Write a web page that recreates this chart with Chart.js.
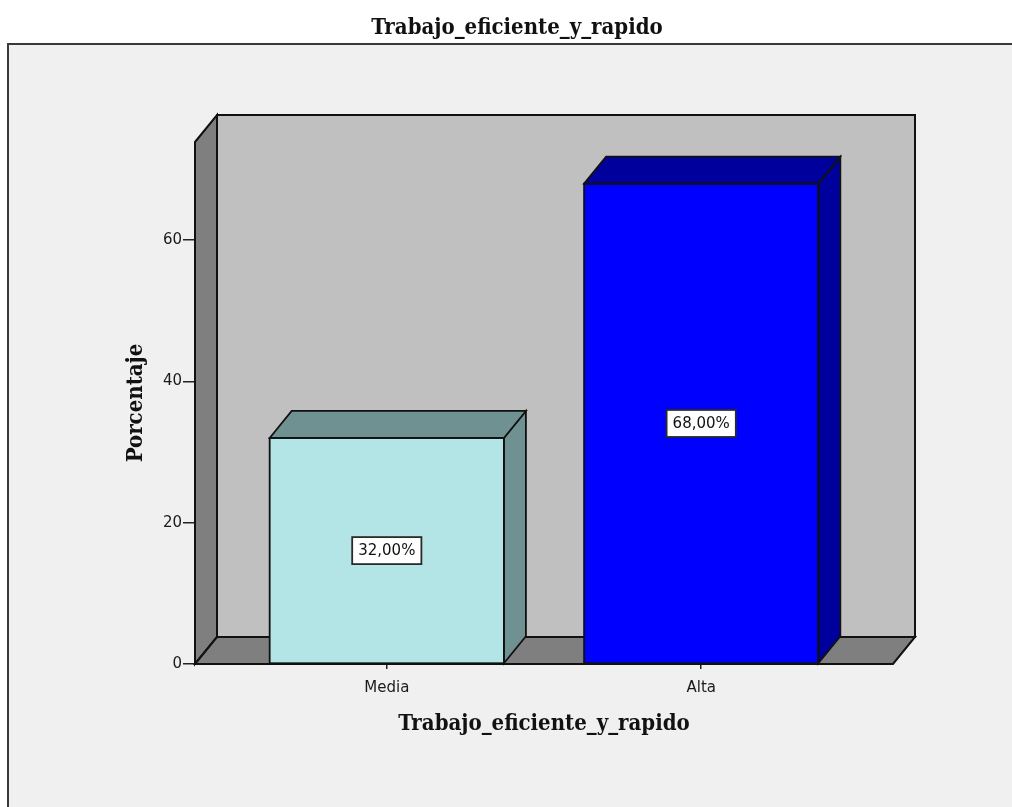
<!DOCTYPE html>
<html>
<head>
<meta charset="utf-8">
<script src="https://cdn.jsdelivr.net/npm/chart.js@4/dist/chart.umd.min.js"></script>
<style>
  html, body { margin: 0; padding: 0; background: #ffffff; }
  canvas { display: block; }
</style>
</head>
<body>
<canvas id="chart" width="1012" height="807"></canvas>
<script>
// Data
const categories = ['Media', 'Alta'];
const percentages = [32, 68];
const yTicks = [0, 20, 40, 60];
const yAxisTop = 73.9;

// Styles
const frontColors = ['#b3e5e7', '#0000ff'];
const sideColors = ['#6f9191', '#00009c'];
const edgeColor = '#111111';
const depthX = 22, depthY = 27;
const serif = "'DejaVu Serif Condensed', 'Liberation Serif', serif";
const sans = "'DejaVu Sans', sans-serif";

const fmtPct = v => v.toFixed(2).replace('.', ',') + '%';

function poly(ctx, pts, fill, stroke, lw) {
  ctx.beginPath();
  ctx.moveTo(pts[0][0], pts[0][1]);
  for (let i = 1; i < pts.length; i++) ctx.lineTo(pts[i][0], pts[i][1]);
  ctx.closePath();
  if (fill) { ctx.fillStyle = fill; ctx.fill(); }
  if (stroke) { ctx.strokeStyle = stroke; ctx.lineWidth = lw || 1.5; ctx.lineJoin = 'miter'; ctx.stroke(); }
}

// Panel background, frame and the 3D box (back wall, side wall, floor)
const boxPlugin = {
  id: 'box3d',
  beforeDraw(chart) {
    const ctx = chart.ctx;
    ctx.save();
    ctx.fillStyle = '#ffffff';
    ctx.fillRect(0, 0, chart.width, chart.height);
    ctx.fillStyle = '#f0f0f0';
    ctx.fillRect(8, 44, chart.width - 8, chart.height - 44);
    ctx.strokeStyle = '#3a3a3a';
    ctx.lineWidth = 2;
    ctx.beginPath();
    ctx.moveTo(chart.width, 44);
    ctx.lineTo(8, 44);
    ctx.lineTo(8, chart.height);
    ctx.stroke();
    ctx.restore();
  },
  beforeDatasetsDraw(chart) {
    const ctx = chart.ctx;
    const xs = chart.scales.x, ys = chart.scales.y;
    const L = xs.left, R = xs.right;
    const B = ys.getPixelForValue(0), T = ys.getPixelForValue(yAxisTop);
    ctx.save();
    // back wall
    poly(ctx, [[L + depthX, T - depthY], [R + depthX, T - depthY], [R + depthX, B - depthY], [L + depthX, B - depthY]], '#c0c0c0', edgeColor, 2);
    // left wall
    poly(ctx, [[L, T], [L + depthX, T - depthY], [L + depthX, B - depthY], [L, B]], '#7f7f7f', edgeColor, 2);
    // floor
    poly(ctx, [[L, B], [L + depthX, B - depthY], [R + depthX, B - depthY], [R, B]], '#7f7f7f', edgeColor, 2);
    ctx.restore();
  },
  afterDatasetsDraw(chart) {
    const ctx = chart.ctx;
    const meta = chart.getDatasetMeta(0);
    ctx.save();
    meta.data.forEach((bar, i) => {
      const p = bar.getProps(['x', 'y', 'base', 'width'], true);
      const x1 = p.x - p.width / 2, x2 = p.x + p.width / 2;
      const top = p.y, base = p.base;
      // side face
      poly(ctx, [[x2, top], [x2 + depthX, top - depthY], [x2 + depthX, base - depthY], [x2, base]], sideColors[i], edgeColor, 1.8);
      // top face
      poly(ctx, [[x1, top], [x1 + depthX, top - depthY], [x2 + depthX, top - depthY], [x2, top]], sideColors[i], edgeColor, 1.8);
      // front outline
      ctx.strokeStyle = edgeColor;
      ctx.lineWidth = 1.8;
      ctx.strokeRect(x1, top, x2 - x1, base - top);
    });
    // value labels
    ctx.font = '15px ' + sans;
    ctx.textAlign = 'center';
    ctx.textBaseline = 'middle';
    meta.data.forEach((bar, i) => {
      const p = bar.getProps(['x', 'y', 'base'], true);
      const txt = fmtPct(percentages[i]);
      const cy = (p.y + p.base) / 2;
      const w = ctx.measureText(txt).width + 12;
      const h = 27;
      ctx.fillStyle = '#ffffff';
      ctx.fillRect(p.x - w / 2, cy - h / 2, w, h);
      ctx.strokeStyle = '#2a2a2a';
      ctx.lineWidth = 1.8;
      ctx.strokeRect(p.x - w / 2, cy - h / 2, w, h);
      ctx.fillStyle = '#111111';
      ctx.fillText(txt, p.x, cy + 1);
    });
    ctx.restore();
  }
};

new Chart(document.getElementById('chart'), {
  type: 'bar',
  data: {
    datasets: [{
      data: percentages.map((v, i) => ({ x: i, y: v })),
      backgroundColor: frontColors,
      borderWidth: 0,
      barPercentage: 0.745,
      categoryPercentage: 1
    }]
  },
  options: {
    responsive: false,
    devicePixelRatio: 1,
    animation: false,
    layout: { padding: { left: 22, right: 0, top: 0, bottom: 0 } },
    plugins: {
      legend: { display: false },
      tooltip: { enabled: false },
      title: {
        display: true,
        text: 'Trabajo_eficiente_y_rapido',
        color: '#111111',
        font: { family: serif, size: 22, weight: 'bold', lineHeight: 1.2 },
        padding: { top: 15, bottom: 100.6 }
      }
    },
    scales: {
      x: {
        type: 'linear',
        position: 'bottom',
        offset: false,
        min: -0.61,
        max: 1.61,
        afterBuildTicks(scale) { scale.ticks = categories.map((_, i) => ({ value: i })); },
        afterFit(scale) { scale.height = 143; },
        border: { display: false },
        grid: { offset: false, drawOnChartArea: false, drawTicks: true, tickLength: 5, color: '#222222', lineWidth: 1.5 },
        ticks: {
          padding: 10,
          color: '#1a1a1a',
          font: { family: sans, size: 15 },
          callback: v => categories[v]
        },
        title: {
          display: true,
          text: 'Trabajo_eficiente_y_rapido',
          color: '#111111',
          font: { family: serif, size: 22, weight: 'bold', lineHeight: 1.2 },
          padding: { top: 0, bottom: 70 }
        }
      },
      y: {
        position: 'left',
        min: 0,
        max: yAxisTop,
        afterBuildTicks(scale) { scale.ticks = yTicks.map(v => ({ value: v })); },
        afterFit(scale) { scale.width = 173; },
        border: { display: false },
        grid: { drawOnChartArea: false, drawTicks: true, tickLength: 12, color: '#222222', lineWidth: 1.5 },
        ticks: {
          padding: 1,
          color: '#1a1a1a',
          font: { family: sans, size: 15 }
        },
        title: {
          display: true,
          text: 'Porcentaje',
          color: '#111111',
          font: { family: serif, size: 22, weight: 'bold', lineHeight: 1.2 },
          padding: { top: 101, bottom: 0 }
        }
      },
      yr: {
        position: 'right',
        display: true,
        afterFit(scale) { scale.width = 119; },
        border: { display: false },
        grid: { display: false },
        ticks: { display: false }
      }
    }
  },
  plugins: [boxPlugin]
});
</script>
</body>
</html>
